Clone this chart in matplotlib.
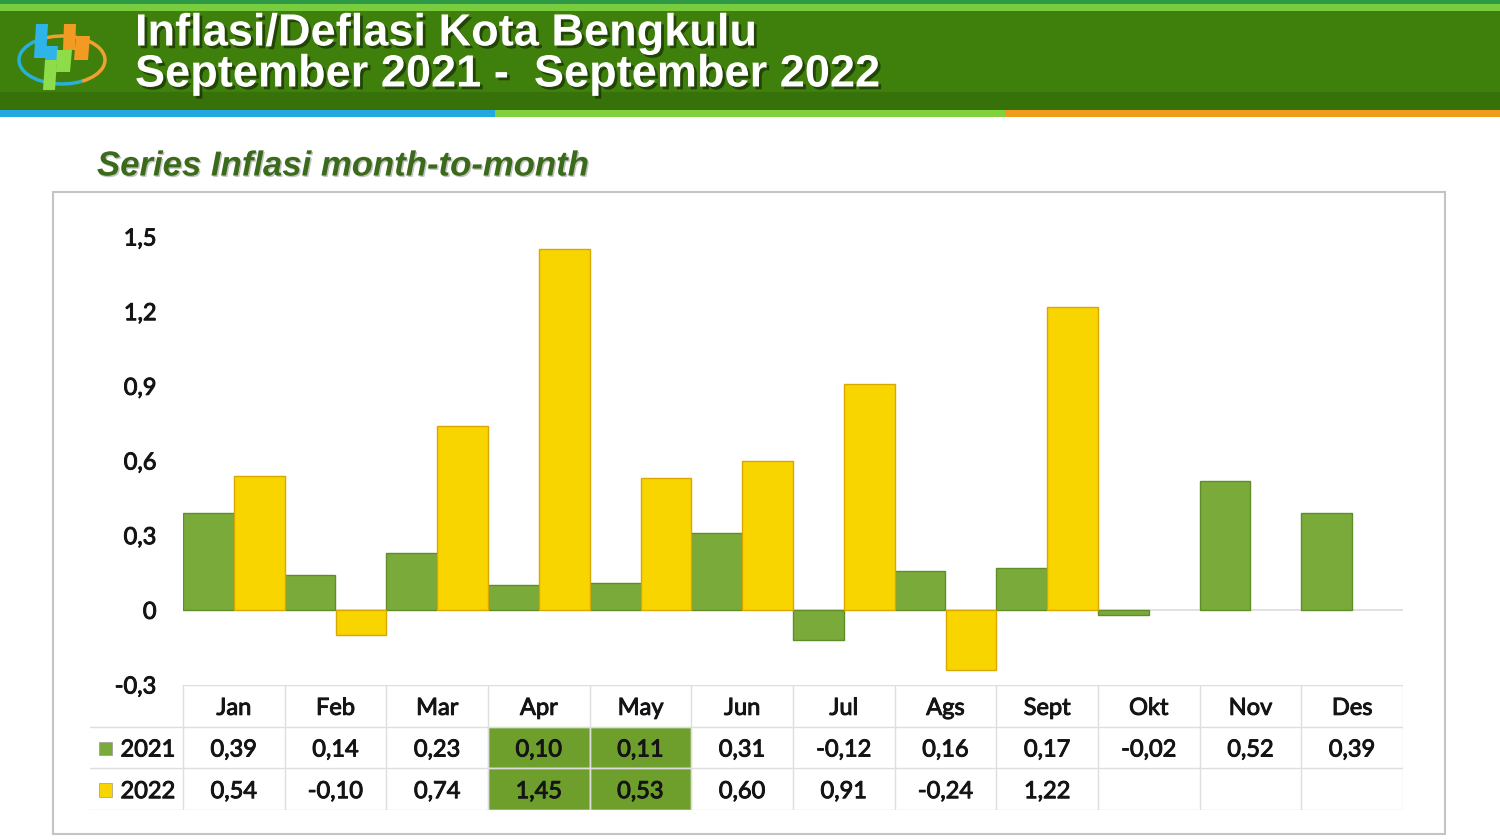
import numpy as np
import matplotlib.pyplot as plt
import matplotlib.patheffects as pe
from matplotlib.patches import Rectangle, Polygon, Arc

# data
months = ["Jan", "Feb", "Mar", "Apr", "May", "Jun", "Jul", "Ags", "Sept", "Okt", "Nov", "Des"]
inf_2021 = [0.39, 0.14, 0.23, 0.10, 0.11, 0.31, -0.12, 0.16, 0.17, -0.02, 0.52, 0.39]
inf_2022 = [0.54, -0.10, 0.74, 1.45, 0.53, 0.60, 0.91, -0.24, 1.22]
years = ["2021", "2022"]
highlight = ["Apr", "May"]
yticks = [-0.3, 0, 0.3, 0.6, 0.9, 1.2, 1.5]

W, H = 1500, 840
GREEN = "#7aab3a"
YELLOW = "#f9d500"
FONT = "Lato"
# thin stroke makes Lato look like the medium-weight Calibri of the slide
TXT = dict(family=FONT, fontsize=17, color="#141414",
           path_effects=[pe.withStroke(linewidth=0.7, foreground="#141414")])


def fx(px):
    return px / W


def fy(py):
    return 1 - py / H


def fmt(v):
    return f"{v:.2f}".replace(".", ",")


fig = plt.figure(figsize=(W / 100, H / 100), dpi=100)
fig.patch.set_facecolor("white")

# header banner
def frect(x0, y0, x1, y1, color, z=-2):
    fig.add_artist(Rectangle((fx(x0), fy(y1)), fx(x1) - fx(x0), fy(y0) - fy(y1),
                             transform=fig.transFigure, color=color, lw=0, zorder=z))

frect(0, 0, W, 110, "#3f7f0c")
frect(0, 92, W, 110, "#37710a")
frect(0, 0, W, 4, "#2f9a45")
frect(0, 4, W, 11, "#79cc3e")
frect(0, 110, 495, 117, "#22a7df")
frect(495, 110, 1005, 117, "#80d13c")
frect(1005, 110, W, 117, "#f09a1a")

# simple BPS-like logo
def fpoly(pts, color):
    fig.add_artist(Polygon([(fx(a), fy(b)) for a, b in pts], closed=True,
                           transform=fig.transFigure, color=color, lw=0, zorder=-1))

fpoly([(36, 24), (48, 24), (46, 58), (34, 58)], "#2fb4ea")
fpoly([(46, 46), (58, 46), (57, 60), (45, 60)], "#2fb4ea")
fpoly([(45, 60), (57, 60), (55, 90), (43, 90)], "#8fdc4a")
fpoly([(57, 50), (72, 50), (70, 72), (56, 72)], "#8fdc4a")
fpoly([(64, 24), (76, 24), (75, 50), (63, 50)], "#f39a22")
fpoly([(76, 36), (90, 36), (88, 60), (74, 60)], "#f39a22")
for t1, t2, c in [(100, 280, "#29b0d8"), (280, 460, "#f0a030")]:
    fig.add_artist(Arc((fx(62), fy(60)), fx(86), 48 / H, angle=18, theta1=t1, theta2=t2,
                       transform=fig.transFigure, color=c, lw=2.5, zorder=-1.5))

shadow = [pe.withSimplePatchShadow(offset=(2, -2), shadow_rgbFace="black", alpha=0.45)]
fig.text(fx(135), fy(34), "Inflasi/Deflasi Kota Bengkulu", color="white",
         fontsize=32.5, fontweight="bold", family="Liberation Sans", va="center", path_effects=shadow)
fig.text(fx(135), fy(75), "September 2021 -  September 2022", color="white",
         fontsize=32.5, fontweight="bold", family="Liberation Sans", va="center", path_effects=shadow)

fig.text(fx(97), fy(166), "Series Inflasi month-to-month", color="#3a6a1a",
         fontsize=25, style="italic", fontweight="bold", family="Liberation Sans", va="center",
         path_effects=[pe.withSimplePatchShadow(offset=(1, -1), shadow_rgbFace="#888888", alpha=0.5)])

# chart box
fig.add_artist(Rectangle((fx(53), fy(834)), fx(1445) - fx(53), fy(192) - fy(834),
                         transform=fig.transFigure, facecolor="white", edgecolor="#c4c4c4",
                         lw=1.5, zorder=-1))

# bar chart
ax = fig.add_axes([fx(183), fy(685), fx(1403) - fx(183), fy(237) - fy(685)])
ax.set_facecolor("none")
x = np.arange(len(months))
ax.bar(x[:len(inf_2021)] - 0.25, inf_2021, width=0.5, color=GREEN, edgecolor="#5f8d28", lw=1, zorder=3)
ax.bar(x[:len(inf_2022)] + 0.25, inf_2022, width=0.5, color=YELLOW, edgecolor="#d9a800", lw=1, zorder=3)
ax.axhline(0, color="#dcdcdc", lw=1.2, zorder=2)
ax.set_xlim(-0.5, len(months) - 0.5)
ax.set_ylim(-0.3, 1.5)
ax.set_yticks(yticks)
ax.set_yticklabels([("0" if v == 0 else f"{v:.1f}".replace(".", ",")) for v in yticks])
ax.set_xticks([])
ax.tick_params(axis="y", length=0, pad=19)
for lab in ax.get_yticklabels():
    lab.set(**TXT)
for s in ax.spines.values():
    s.set_visible(False)

# data table under the chart
tax = fig.add_axes([fx(90), fy(810), fx(1403) - fx(90), fy(685) - fy(810)])
left = -0.5 - (183 - 90) / ((1403 - 183) / len(months))
tax.set_xlim(left, len(months) - 0.5)
tax.set_ylim(3, 0)
tax.axis("off")
grid = "#dedede"
dy = 0.56

series = [inf_2021, inf_2022]
colors = [GREEN, YELLOW]
for r, vals in enumerate(series, start=1):
    for i, m in enumerate(months):
        if m in highlight and i < len(vals):
            tax.add_patch(Rectangle((i - 0.5, r), 1, 1, facecolor="#6e9f2c", edgecolor="#d9e8c8", lw=1))
for i, m in enumerate(months):
    tax.text(i, dy, m, ha="center", va="center", **TXT)
    for r, vals in enumerate(series, start=1):
        if i < len(vals):
            tax.text(i, r + dy, fmt(vals[i]), ha="center", va="center", **TXT)
for r, (yr, c) in enumerate(zip(years, colors), start=1):
    tax.add_patch(Rectangle((left + 0.09, r + 0.36), 0.13, 0.32, facecolor=c, edgecolor="#999999", lw=0.5))
    tax.text(left + 0.3, r + dy, yr, ha="left", va="center", **TXT)

for k in range(len(months) + 1):
    tax.plot([k - 0.5, k - 0.5], [0, 3], color=grid, lw=1)
tax.plot([-0.5, len(months) - 0.5], [0, 0], color=grid, lw=1)
for yy in [1, 2, 3]:
    tax.plot([left, len(months) - 0.5], [yy, yy], color=grid, lw=1)

fig.savefig("out.png", dpi=100)
